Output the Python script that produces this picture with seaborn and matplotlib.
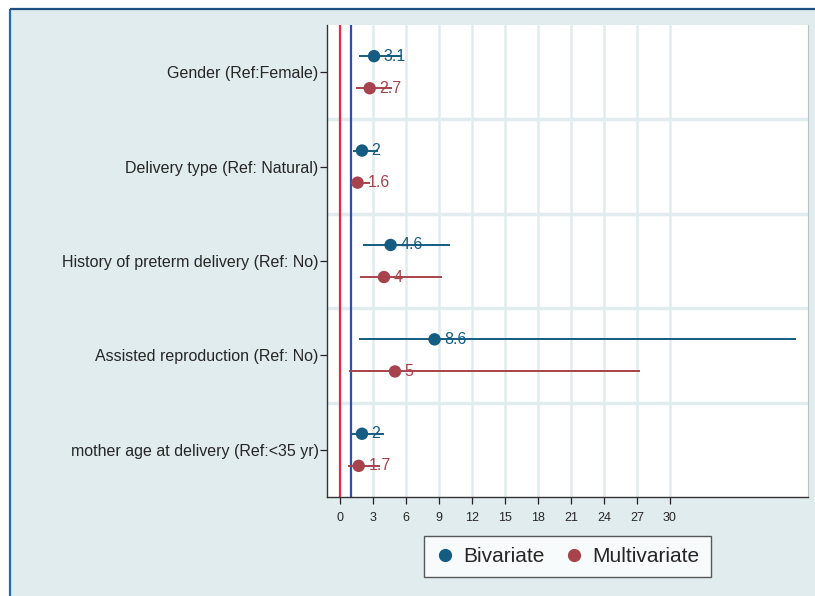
import matplotlib
matplotlib.use("Agg")
import matplotlib.pyplot as plt
import seaborn as sns
import pandas as pd
from matplotlib.lines import Line2D

categories = [
    "Gender (Ref:Female)",
    "Delivery type (Ref: Natural)",
    "History of preterm delivery (Ref: No)",
    "Assisted reproduction (Ref: No)",
    "mother age at delivery (Ref:<35 yr)",
]
biv_or = [3.1, 2.0, 4.6, 8.6, 2.0]
biv_lo = [1.7, 1.2, 2.1, 1.7, 1.1]
biv_hi = [5.6, 3.5, 10.0, 41.5, 4.0]
multi_or = [2.7, 1.6, 4.0, 5.0, 1.7]
multi_lo = [1.45, 1.0, 1.8, 0.85, 0.75]
multi_hi = [4.7, 2.7, 9.3, 27.3, 3.6]
biv_labels = ["3.1", "2", "4.6", "8.6", "2"]
multi_labels = ["2.7", "1.6", "4", "5", "1.7"]
xticks = [0, 3, 6, 9, 12, 15, 18, 21, 24, 27, 30]
series_names = ["Bivariate", "Multivariate"]

c_biv = "#145c82"
c_multi = "#a7434c"
bg = "#e1ecef"

sns.set_style("white")
plt.rcParams["font.family"] = ["Liberation Sans", "DejaVu Sans"]

fig = plt.figure(figsize=(8.15, 5.96), dpi=100)
fig.patch.set_facecolor("white")
W, H = 815, 596
# outer background box (in a background axes)
bax = fig.add_axes([0, 0, 1, 1], zorder=-5)
bax.set_xlim(0, W)
bax.set_ylim(H, 0)
bax.axis("off")
bax.add_patch(plt.Rectangle((10, 9), W - 10, H - 9, facecolor=bg, edgecolor="none"))
bax.plot([10, 10], [9, H], color="#1f6db0", lw=1.6, solid_capstyle="butt")
bax.plot([10, W], [9, 9], color="#1f4f80", lw=1.6, solid_capstyle="butt")

ax = fig.add_axes([327 / W, 1 - 497 / H, 481 / W, 472 / H], zorder=1)
ax.set_facecolor("white")

off = 0.17
n = len(categories)
rows = []
for i in range(n):
    rows.append({"y": i - off, "or": biv_or[i], "lo": biv_lo[i], "hi": biv_hi[i],
                 "lab": biv_labels[i], "series": series_names[0]})
    rows.append({"y": i + off, "or": multi_or[i], "lo": multi_lo[i], "hi": multi_hi[i],
                 "lab": multi_labels[i], "series": series_names[1]})
df = pd.DataFrame(rows)
pal = {series_names[0]: c_biv, series_names[1]: c_multi}

# grid
for xv in xticks[1:]:
    ax.axvline(xv, color=bg, lw=1.8, zorder=0)
for yb in [0.5, 1.5, 2.5, 3.5]:
    ax.axhline(yb, color=bg, lw=2.5, zorder=0)

ax.axvline(0, color="#e8283f", lw=1.6, zorder=1)
ax.axvline(1, color="#2f4fb0", lw=1.6, zorder=1)

for _, r in df.iterrows():
    ax.hlines(r["y"], r["lo"], r["hi"], color=pal[r["series"]], lw=1.4, zorder=2)

sns.scatterplot(data=df, x="or", y="y", hue="series", palette=pal, s=80,
                edgecolor="none", ax=ax, zorder=3, legend=False)

for _, r in df.iterrows():
    ax.annotate(r["lab"], (r["or"], r["y"]), xytext=(7, 0), textcoords="offset points",
                ha="left", va="center", fontsize=11.5, color=pal[r["series"]], zorder=4)

ax.set_xlim(-1.18, 42.55)
ax.set_ylim(4.5, -0.5)
ax.set_xticks(xticks)
ax.set_xticklabels([str(t) for t in xticks], fontsize=9)
ax.set_yticks(range(n))
ax.set_yticklabels(categories, fontsize=11.5)
ax.tick_params(axis="both", direction="out", length=5, width=0.9, color="#222222",
               left=True, bottom=True)
ax.tick_params(axis="x", pad=6)
ax.tick_params(axis="y", pad=1)
ax.set_xlabel("")
ax.set_ylabel("")
for s in ["left", "bottom"]:
    ax.spines[s].set_color("#333333")
    ax.spines[s].set_linewidth(1.0)
ax.spines["top"].set_visible(False)
ax.spines["right"].set_color("#b8c4c8")
ax.spines["right"].set_linewidth(0.8)

handles = [Line2D([], [], marker="o", ls="none", color=c_biv, markersize=8.5),
           Line2D([], [], marker="o", ls="none", color=c_multi, markersize=8.5)]
leg = ax.legend(handles, series_names, loc="center", bbox_to_anchor=(0.5, -0.126),
                ncol=2, fontsize=15, frameon=True, fancybox=False, handletextpad=0.4,
                columnspacing=1.0, borderpad=0.55, handlelength=0.9, borderaxespad=0)
leg.get_frame().set_edgecolor("#333333")
leg.get_frame().set_linewidth(1.0)
leg.get_frame().set_facecolor("white")

fig.savefig("out.png", dpi=100, facecolor=fig.get_facecolor())
